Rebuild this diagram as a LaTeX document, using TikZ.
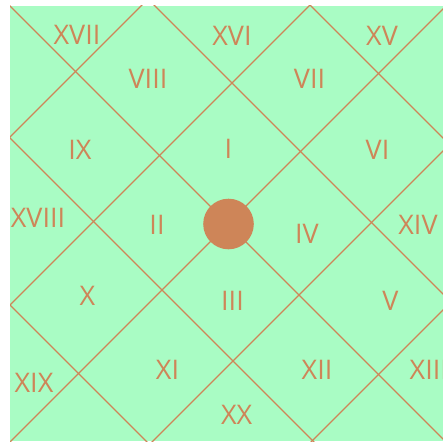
\documentclass[tikz,border=0pt]{standalone}
\usepackage{fontspec}
\setmainfont{Open Sans}
\definecolor{bggreen}{RGB}{169,252,196}
\definecolor{clay}{RGB}{206,133,88}
\begin{document}
\begin{tikzpicture}[x=1pt,y=-1pt,
  gridline/.style={draw=clay,line width=1.3pt},
  numeral/.style={text=clay,inner sep=0pt,font=\fontsize{27}{32}\selectfont}]
\useasboundingbox (0,0) rectangle (443,441);
\fill[bggreen] (10,6) rectangle (443,441);
\begin{scope}
\clip (10,6) rectangle (443,441);
\foreach \c in {-295,-128,4,149,305} \draw[gridline] ({\c-100},-100) -- ({\c+600},600);
\foreach \d in {147,315,452,594,753} \draw[gridline] ({\d+100},-100) -- ({\d-600},600);
\end{scope}
\fill[clay] (228.5,224) circle[radius=25.3pt];
\node[numeral] (n17) at (77,35) {XVII};
\node[numeral] (n16) at (232,35.5) {XVI};
\node[numeral] (n15) at (382,35.5) {XV};
\node[numeral] (n8) at (148,79) {VIII};
\node[numeral] (n7) at (309.5,79) {VII};
\node[numeral] (n9) at (80,149.5) {IX};
\node[numeral] (n1) at (228.5,149) {I};
\node[numeral] (n6) at (377.5,149.5) {VI};
\node[numeral] (n18) at (38,218) {XVIII};
\node[numeral] (n2) at (157,224.5) {II};
\node[numeral] (n4) at (307,233.7) {IV};
\node[numeral] (n14) at (418,224.7) {XIV};
\node[numeral] (n10) at (87.5,296) {X};
\node[numeral] (n3) at (232.5,301) {III};
\node[numeral] (n5) at (390.5,300.5) {V};
\node[numeral] (n19) at (34,383) {XIX};
\node[numeral] (n11) at (167.5,369.7) {XI};
\node[numeral] (n12) at (317,369.7) {XII};
\node[numeral,anchor=west] (n13) at (409.5,369.5) {XIII};
\node[numeral] (n20) at (236.7,414.7) {XX};
\end{tikzpicture}
\end{document}
